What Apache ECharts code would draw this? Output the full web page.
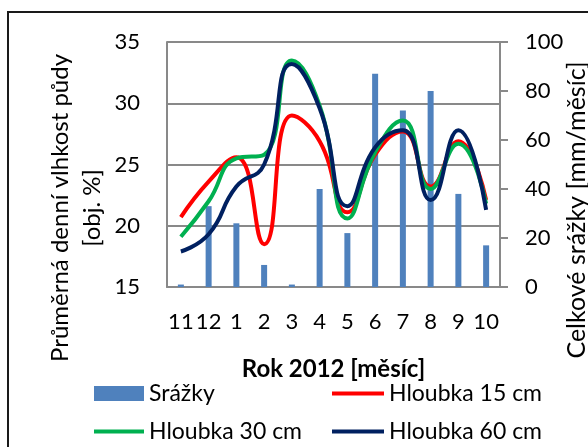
<!DOCTYPE html>
<html>
<head>
<meta charset="utf-8">
<script src="https://cdn.jsdelivr.net/npm/echarts@6/dist/echarts.min.js"></script>
<style>
  html, body { margin: 0; padding: 0; background: #fff; }
  #chart { width: 588px; height: 447px; }
</style>
</head>
<body>
<div id="chart"></div>
<script>
// Months of 2012 (Nov 2011 – Oct 2012)
const months = ['11', '12', '1', '2', '3', '4', '5', '6', '7', '8', '9', '10'];
// Monthly precipitation totals [mm/month]
const srazky = [1, 33, 26, 9, 1, 40, 22, 87, 72, 80, 38, 17];
// Mean daily soil moisture [vol. %] at three depths
const hloubka15 = [20.7, 23.6, 25.6, 18.5, 29.0, 26.9, 21.1, 25.8, 27.7, 23.2, 26.9, 22.1];
const hloubka30 = [19.1, 22.0, 25.5, 25.8, 33.5, 29.8, 20.6, 26.0, 28.6, 23.0, 26.7, 21.8];
const hloubka60 = [17.9, 19.3, 23.2, 25.0, 33.2, 29.6, 21.6, 26.4, 27.8, 22.1, 27.8, 21.3];
// Axis tick settings
const moistureTicks = { min: 15, max: 35, interval: 5 };
const rainTicks = { min: 0, max: 100, interval: 20 };

const FONT = 'Lato';
const GRID_COLOR = '#898989';

const chart = echarts.init(document.getElementById('chart'), null, { renderer: 'canvas' });

function legendItem(name, left, top, w, h) {
  return {
    data: [name],
    left: left,
    top: top,
    padding: 0,
    itemWidth: w,
    itemHeight: h,
    icon: 'rect',
    selectedMode: false,
    textStyle: { fontFamily: FONT, fontSize: 23, color: '#000', padding: [0, 0, 0, 0] }
  };
}

chart.setOption({
  animation: false,
  backgroundColor: '#fff',
  grid: { left: 167, right: 88, top: 42, bottom: 160, containLabel: false },
  legend: [
    legendItem('Srážky', 94, 382, 50, 15),
    legendItem('Hloubka 15 cm', 332, 382, 52, 4),
    legendItem('Hloubka 30 cm', 94, 420, 50, 4),
    legendItem('Hloubka 60 cm', 332, 420, 52, 4)
  ],
  xAxis: {
    type: 'category',
    data: months,
    boundaryGap: true,
    name: 'Rok 2012 [měsíc]',
    nameLocation: 'middle',
    nameGap: 70,
    nameTextStyle: { fontFamily: FONT, fontSize: 24, fontWeight: 'bold', color: '#000' },
    axisLine: { lineStyle: { color: GRID_COLOR, width: 2 } },
    axisTick: { show: false },
    axisLabel: { fontFamily: FONT, fontSize: 22, color: '#000', margin: 24, interval: 0 }
  },
  yAxis: [
    {
      type: 'value',
      min: moistureTicks.min, max: moistureTicks.max, interval: moistureTicks.interval,
      axisLine: { show: true, lineStyle: { color: GRID_COLOR, width: 2 } },
      axisTick: { show: false },
      splitLine: { lineStyle: { color: GRID_COLOR, width: 2 } },
      axisLabel: { fontFamily: FONT, fontSize: 22, color: '#000', margin: 27 }
    },
    {
      type: 'value',
      position: 'right',
      min: rainTicks.min, max: rainTicks.max, interval: rainTicks.interval,
      axisLine: { show: true, lineStyle: { color: GRID_COLOR, width: 2 } },
      axisTick: { show: true, length: 8, lineStyle: { color: GRID_COLOR, width: 2 } },
      splitLine: { show: false },
      axisLabel: { fontFamily: FONT, fontSize: 22, color: '#000', margin: 25 }
    }
  ],
  series: [
    {
      name: 'Srážky',
      type: 'bar',
      yAxisIndex: 1,
      data: srazky,
      barWidth: 6,
      itemStyle: { color: '#4f81bd' }
    },
    {
      name: 'Hloubka 15 cm',
      type: 'line',
      yAxisIndex: 0,
      data: hloubka15,
      smooth: 0.5,
      showSymbol: false,
      lineStyle: { color: '#ff0000', width: 4 },
      itemStyle: { color: '#ff0000' }
    },
    {
      name: 'Hloubka 30 cm',
      type: 'line',
      yAxisIndex: 0,
      data: hloubka30,
      smooth: 0.5,
      showSymbol: false,
      lineStyle: { color: '#00b050', width: 4 },
      itemStyle: { color: '#00b050' }
    },
    {
      name: 'Hloubka 60 cm',
      type: 'line',
      yAxisIndex: 0,
      data: hloubka60,
      smooth: 0.5,
      showSymbol: false,
      lineStyle: { color: '#002060', width: 4 },
      itemStyle: { color: '#002060' }
    }
  ],
  graphic: [
    {
      type: 'rect',
      shape: { x: 8, y: 12, width: 620, height: 480 },
      style: { fill: 'none', stroke: '#1a1a1a', lineWidth: 2 },
      silent: true
    },
    {
      type: 'text',
      x: 76, y: 208,
      rotation: Math.PI / 2,
      style: {
        text: 'Průměrná denní vlhkost půdy\n[obj. %]',
        fontFamily: FONT, fontSize: 24, fill: '#000',
        align: 'center', verticalAlign: 'middle', lineHeight: 32
      },
      silent: true
    },
    {
      type: 'text',
      x: 577, y: 210,
      rotation: Math.PI / 2,
      style: {
        text: 'Celkové srážky [mm/měsíc]',
        fontFamily: FONT, fontSize: 25, fill: '#000',
        align: 'center', verticalAlign: 'middle'
      },
      silent: true
    }
  ]
});
</script>
</body>
</html>
